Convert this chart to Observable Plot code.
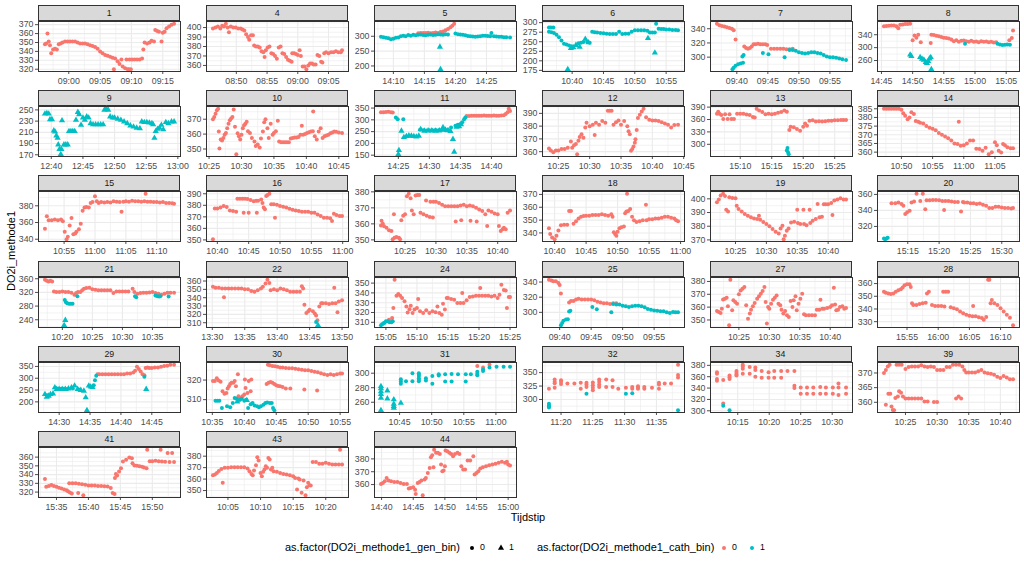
<!DOCTYPE html>
<html><head><meta charset="utf-8">
<script src="https://cdn.jsdelivr.net/npm/d3@7"></script>
<script src="https://cdn.jsdelivr.net/npm/@observablehq/plot@0.6"></script>
<style>
html,body{margin:0;padding:0;background:#fff;}
#chart{position:relative;width:1024px;height:566px;font-family:"Liberation Sans",Arial,sans-serif;overflow:hidden;background:#fff;}
.strip{position:absolute;box-sizing:border-box;height:16px;background:#D9D9D9;border:1px solid #333;font-size:8.8px;color:#1A1A1A;text-align:center;line-height:14px;}
.panel{position:absolute;}
.title{position:absolute;font-size:11px;color:#000;white-space:nowrap;}
</style></head><body><div id="chart"></div>
<script>
const RED = "#F8766D", TEAL = "#00BFC4";
// time as HHMM.f (fractional minutes), value pairs: [t, v, t, v, ...]
const P1 = {id:"1", yTicks:[320,330,340,350,360,370],
 red:[856.2,348, 856.4,349, 856.6,360, 856.8,351, 857,347, 857.2,338, 857.5,342, 857.8,343, 858.1,342, 858.4,348, 858.7,349, 859,350, 859.4,351, 859.8,351, 900.2,351, 900.6,351, 901,351, 901.4,350, 901.8,349, 902.2,349, 902.6,349, 903,348, 903.4,347, 903.8,346, 904.2,345, 904.6,343, 905,340, 905.4,338, 905.8,336, 906.2,335, 906.6,334, 907,333, 907.2,320, 907.4,332, 907.8,329, 908.1,326, 908.4,331, 908.6,323, 909,321, 909.4,320, 909.6,320, 909.9,320, 909.2,331, 909.7,331, 910.1,331, 910.5,331, 910.9,331, 911.3,331, 911.7,332, 911.9,342, 912.1,350, 912.5,349, 912.9,350, 913.2,352, 913.6,351, 913.8,364, 914.1,363, 914.4,362, 914.8,351, 915,361, 915.3,362, 915.6,366, 916,368, 916.4,370, 916.8,371],
 tealC:[], tealT:[]};
const P4 = {id:"4", yTicks:[360,370,380,390,400],
 red:[846.2,399, 846.6,400, 847,401, 847.4,399, 847.7,402, 848,401, 848.3,404, 848.6,400, 848.8,395, 849.1,401, 849.5,400, 849.9,400, 850.3,399, 850.7,399, 851,398, 851.3,397, 851.6,393, 851.9,390, 852.1,387, 852.4,392, 852.7,392, 852.9,381, 853.2,380, 853.5,380, 853.8,379, 854.1,375, 854.4,374, 854.6,369, 854.8,376, 855.1,379, 855.4,380, 855.7,373, 856,372, 856.3,370, 856.6,367, 856.9,379, 857.2,380, 857.5,373, 857.8,372, 858.1,369, 858.4,366, 858.7,365, 859,364, 859.1,373, 859.4,373, 859.7,372, 900,371, 900.3,376, 900.5,370, 900.8,359, 901.1,359, 901.4,356, 901.7,360, 902,362, 902.3,362, 902.6,361, 902.9,361, 903.2,371, 903.5,370, 903.8,364, 904,363, 904.3,373, 904.6,374, 905,373, 905.4,374, 905.8,374, 906.2,375, 906.6,374, 907,374, 907.2,376],
 tealC:[], tealT:[]};
const P5 = {id:"5", yTicks:[200,250,300],
 red:[1414,310, 1414.4,311, 1414.8,311, 1415.2,311, 1415.6,312, 1416,310, 1416.4,311, 1416.8,313, 1417.2,311, 1417.6,314, 1418,316, 1418.4,320, 1418.8,324, 1419.2,330, 1419.5,335, 1419.8,342],
 tealC:[1408,298, 1408.4,297, 1408.8,295, 1409.2,293, 1409.6,290, 1410,292, 1410.4,295, 1410.8,296, 1411.2,300, 1411.6,302, 1412,300, 1412.4,304, 1412.8,302, 1413.2,305, 1413.6,303, 1414,305, 1414.4,306, 1414.8,304, 1415.2,303, 1415.6,305, 1416,306, 1416.4,304, 1416.8,305, 1417.2,307, 1417.6,306, 1418,305, 1418.4,307, 1418.8,306, 1420,309, 1420.4,307, 1420.8,306, 1421.2,305, 1421.6,303, 1422,301, 1422.4,300, 1422.8,299, 1423.2,298, 1423.6,299, 1424,300, 1424.4,302, 1424.8,302, 1425.2,301, 1425.6,300, 1425.8,311, 1426.2,300, 1426.6,299, 1427,298, 1427.4,298, 1427.8,297, 1428.2,297, 1428.8,296],
 tealT:[1417.5,264, 1417.6,189]};
const P6 = {id:"6", yTicks:[175,200,225,250,275,300],
 red:[],
 tealC:[1036.3,287, 1036.6,287, 1037,287, 1036.3,276, 1036.7,275, 1037.1,273, 1037.5,268, 1037.9,262, 1038.3,253, 1038.7,245, 1039.1,243, 1039.5,240, 1039.9,238, 1041,246, 1041.4,247, 1041.8,249, 1042.4,250, 1042.8,247, 1043.2,276, 1043.6,275, 1044,274, 1044.5,273, 1045,272, 1045.5,271, 1046,270, 1046.5,270, 1047,270, 1047.5,276, 1048,270, 1048.5,271, 1049,271, 1049.5,276, 1050,280, 1050.5,280, 1051,280, 1051.5,280, 1052,279, 1052.4,274, 1052.8,274, 1053.2,274, 1053.4,297, 1053.8,284, 1054.2,283, 1054.6,283, 1055,282, 1055.5,282, 1056,281, 1056.5,281, 1056.9,280],
 tealT:[1039.3,178, 1039.8,233, 1040.2,235, 1040.6,241, 1041.2,236, 1042.1,257, 1042.6,248, 1052.1,259, 1053.2,221]};
const P7 = {id:"7", yTicks:[300,320,340],
 red:[936.8,347, 937.2,345, 937.6,344, 938,343, 938.4,342, 938.8,341, 939.2,340, 939.5,338, 939.8,325, 941.2,315, 941.5,313, 941.8,312, 942.1,313, 942.4,315, 942.7,318, 943,318, 943.4,319, 943.8,318, 944.2,318, 944.6,318, 944.9,317, 945.5,312, 946,312, 946.5,312, 947,312, 947.5,312, 948,311, 948.5,311, 949,312],
 tealC:[939.3,283, 939.5,285, 939.8,288, 940.2,290, 940.6,291, 941,292, 940.9,301, 941.1,303, 944.2,306, 945.1,304, 947.7,300, 948.5,310, 949,310, 949.5,309, 950,307, 950.5,306, 951,305, 951.5,306, 952,307, 952.5,307, 953,306, 953.5,305, 954,303, 954.5,301, 955,300, 955.5,300, 956,299, 956.5,298, 957,297, 957.6,296],
 tealT:[]};
const P8 = {id:"8", yTicks:[260,300,340],
 red:[1445.4,366, 1445.8,367, 1446.2,368, 1446.6,369, 1447,369, 1447.4,366, 1447.7,360, 1448,371, 1448.4,372, 1448.8,373, 1449.2,373, 1449.6,374, 1450,323, 1450.3,338, 1450.6,331, 1450.9,340, 1451.3,317, 1452.9,314, 1453,340, 1453.4,339, 1453.8,337, 1454.2,335, 1454.6,333, 1455,331, 1455.4,330, 1455.8,328, 1456.2,325, 1456.6,320, 1457,323, 1457.4,318, 1457.8,321, 1458.2,322, 1458.6,320, 1459,318, 1459.4,321, 1459.8,318, 1500.2,319, 1500.6,317, 1501,320, 1501.4,318, 1501.8,319, 1502.2,317, 1502.6,318, 1503,316, 1503.4,317, 1505.5,323, 1505.9,330, 1506.1,353],
 tealC:[1458.4,312, 1503.6,312, 1504,310, 1504.4,308, 1504.8,309, 1505.2,310, 1505.6,309],
 tealT:[1449.6,278, 1449.8,273, 1451.2,270, 1451.5,265, 1451.8,262, 1452.1,255, 1452.3,252, 1452.5,258, 1452.7,266, 1452.9,270, 1453,233]};
const P9 = {id:"9", yTicks:[170,190,210,230,250],
 red:[], tealC:[],
 tealT:[1239,243, 1239.3,244, 1239.6,243, 1239.8,233, 1240.1,233, 1240.4,213, 1240.6,211, 1240.8,204, 1241,200, 1241.1,188, 1241.3,180, 1241.5,171, 1241.6,180, 1241.7,231, 1242,188, 1242.3,188, 1242.6,188, 1242.8,212, 1243.1,212, 1243.4,212, 1243.7,212, 1243.9,232, 1244.2,246, 1244.4,242, 1244.7,223, 1245,236, 1245.3,232, 1245.6,238, 1245.9,236, 1246.2,226, 1246.6,224, 1247,224, 1247.4,224, 1247.8,224, 1248.2,224, 1248.4,250, 1248.7,252, 1249,250, 1249.3,238, 1249.7,236, 1250,236, 1250.5,234, 1251,232, 1251.5,229, 1252,226, 1252.5,222, 1253,220, 1253.5,218, 1254,217, 1254.3,229, 1254.7,228, 1255.1,228, 1255.5,227, 1255.9,226, 1256.1,224, 1256.3,200, 1256.5,212, 1256.8,216, 1257.1,218, 1257.4,223, 1257.7,215, 1258.1,228, 1258.5,226, 1259,229, 1259.4,229]};
const P10 = {id:"10", yTicks:[350,360,370],
 red:[1025.6,370, 1025.8,371.5, 1026,373.7, 1026.2,376, 1026.4,377, 1026.5,361.7, 1026.6,350.4, 1026.8,356.3, 1027,355.7, 1027.2,357.4, 1027.4,359.6, 1027.6,360.7, 1027.8,364, 1028,367, 1028.2,369.3, 1028.4,370.4, 1028.6,371.5, 1028.8,376.5, 1029,365, 1029.2,346.5, 1029.4,360.6, 1029.6,358.5, 1029.8,356.3, 1030,359.6, 1030.2,364, 1030.4,366, 1030.6,367, 1030.8,368.3, 1031,362, 1031.3,360.7, 1031.6,357.4, 1032,355, 1032.2,352, 1032.5,353, 1032.8,351, 1033,357, 1033.3,361.7, 1033.5,368, 1033.7,370, 1034,364, 1034.2,357.4, 1034.5,367, 1034.8,359.6, 1035,360.7, 1035.3,362, 1035.6,369, 1035.8,355, 1036.1,354.5, 1036.4,354.5, 1036.7,354.5, 1037,354.5, 1037.3,354.5, 1037.6,357, 1037.9,357.4, 1038.2,357.8, 1038.5,357.8, 1038.8,358, 1039.1,359.6, 1039.3,365.6, 1039.5,359.6, 1039.8,360, 1040.1,360.7, 1040.4,361.2, 1040.7,361.7, 1041,362, 1041.05,375.2, 1041.3,358.5, 1041.6,356.3, 1041.9,361.7, 1042.2,364, 1042.5,357.4, 1042.8,358.5, 1043.1,359, 1043.4,359.6, 1043.7,360.5, 1044,361, 1044.3,361.7, 1044.6,361.5, 1045,361, 1045.5,360.7],
 tealC:[], tealT:[]};
const P11 = {id:"11", yTicks:[150,200,250,300,350],
 red:[1422.2,332, 1422.6,332, 1423,333, 1423.4,334, 1423.8,332, 1424.1,331, 1436,316, 1436.4,316, 1436.8,317, 1437.2,317, 1437.6,317, 1438,317, 1438.4,317, 1438.8,318, 1439.2,317, 1439.6,317, 1440,317, 1440.4,318, 1440.8,317, 1441.2,317, 1441.6,318, 1442,320, 1442.3,325, 1442.6,332, 1442.8,347, 1443,338],
 tealC:[1424.6,310, 1424.9,303, 1425.8,303, 1428.5,258, 1429,256, 1429.5,255, 1430,256, 1430.5,256, 1431,257, 1431.5,256, 1432,257, 1432.5,256, 1433,257, 1433.5,268, 1434.2,275, 1434.6,279, 1435,282, 1435.3,290, 1435.6,303, 1435.8,310],
 tealT:[1425.1,171, 1425,154, 1425.5,253, 1425.9,226, 1426.3,230, 1426.7,233, 1427.1,232, 1427.5,230, 1427.9,228, 1428.3,232, 1428.6,260, 1429.2,253, 1429.8,254, 1430.4,254, 1431,253, 1431.6,254, 1432.2,268, 1432.6,258, 1433,255, 1433.4,252, 1433.8,218, 1434,164, 1434.4,270, 1434.8,272, 1435.1,280]};
const P12 = {id:"12", yTicks:[360,370,380,390],
 red:[1023.5,362.5, 1023.8,361, 1024.2,359.5, 1024.6,361, 1025,361, 1025.5,362, 1026,362, 1026.5,363, 1027,368, 1027.2,363, 1027.5,365, 1027.8,366, 1028,358, 1028.2,368.5, 1028.4,371.5, 1028.7,373.6, 1029,371, 1029.3,379, 1029.5,382.6, 1030,380, 1030.5,381, 1030.8,373, 1031,382.6, 1031.5,381, 1032,384, 1032.5,382.6, 1032.9,392, 1033.2,392, 1033.5,392, 1033.8,381, 1034.2,383, 1034.6,384.4, 1035,381, 1035.5,384, 1036,380, 1036.2,376, 1036.4,373.6, 1036.6,360.8, 1036.8,362, 1037,364, 1037.2,367, 1037.3,369.7, 1037.5,377, 1037.7,386.4, 1038,389, 1038.3,391.5, 1038.6,393.6, 1039,387, 1039.5,385, 1040,384.5, 1040.5,384.4, 1041,384, 1041.5,383, 1042,382, 1042.5,381, 1043,379, 1043.5,380.8, 1044.1,381],
 tealC:[], tealT:[]};
const P13 = {id:"13", yTicks:[300,330,360,390],
 red:[1506.3,374, 1506.5,379, 1506.7,374, 1507,371, 1507.3,361, 1507.6,373, 1508,361, 1508.3,373, 1508.6,361, 1509,361, 1509.5,374, 1510,374, 1510.5,374, 1511,372, 1511.5,371, 1512,366, 1512.3,365, 1512.6,386, 1513,382, 1513.5,378, 1514,373, 1514.5,374, 1515,373, 1515.5,374, 1516,376.6, 1516.5,378, 1517,382, 1517.4,379, 1517.8,334.7, 1518,342.6, 1518.5,341, 1519,337, 1519.5,333, 1520,342.6, 1520.3,350.5, 1520.6,345, 1521,357, 1521.5,358.4, 1522,355, 1522.5,356, 1523,355, 1523.5,356, 1524,357, 1524.5,357, 1525,358, 1525.5,358, 1526,359, 1526.4,359, 1526.8,359],
 tealC:[1517.4,285, 1517.5,291, 1517.6,280, 1517.7,276], tealT:[]};
const P14 = {id:"14", yTicks:[360,365,370,375,380,385],
 red:[1047.2,385, 1047.6,385, 1048,385, 1048.4,385, 1048.8,385, 1049.2,385, 1049.6,385, 1050,384.4, 1050.3,382.4, 1050.6,381, 1051,379, 1051.3,380, 1051.6,383, 1052,382, 1052.3,378, 1052.7,377.5, 1053,377, 1053.5,376.5, 1054,375, 1054.5,374, 1055,373.5, 1055.5,372.6, 1056,371, 1056.5,370, 1057,369, 1057.5,368, 1058,366.7, 1058.5,365, 1059,364.7, 1059.2,377.5, 1059.5,363.7, 1100,364, 1100.5,365, 1101,366.7, 1101.5,366.7, 1102,362, 1102.5,361.8, 1103,360.8, 1103.5,362.6, 1104,358.8, 1104.5,360, 1105,365.7, 1105.3,364, 1105.6,360.8, 1106,359.8, 1106.3,364.7, 1106.6,364, 1107,362.8, 1107.5,362.2, 1107.9,362.2],
 tealC:[], tealT:[]};
const P15 = {id:"15", yTicks:[340,360,380],
 red:[1051.9,352.4, 1052.2,367.6, 1052.5,362.7, 1053,362.7, 1053.5,363.5, 1054,362.7, 1054.5,363.5, 1054.8,361.4, 1055.1,349, 1055.4,340, 1055.6,343, 1055.9,356.5, 1056.2,365.5, 1056.5,346, 1056.8,347, 1057,349, 1057.4,352, 1057.7,358.6, 1058,374, 1058.3,378, 1058.6,378.5, 1059,378, 1059.3,383.3, 1059.6,384.5, 1100,391.5, 1100.3,385.4, 1100.6,383.3, 1101,384.5, 1101.5,384, 1102,384.5, 1102.5,384, 1103,385.4, 1103.5,385, 1104,384.5, 1104.3,373, 1104.6,385, 1105,385.4, 1105.5,385, 1106,386, 1106.5,385.4, 1107,385.4, 1107.5,385, 1108,385.4, 1108.2,394.4, 1108.5,385, 1109,385, 1109.5,384.5, 1110,384.5, 1110.5,384, 1111,384.5, 1111.5,383.5, 1112,383.3, 1112.5,383, 1112.8,382.5],
 tealC:[], tealT:[]};
const P16 = {id:"16", yTicks:[350,360,370,380,390],
 red:[1039.3,350.6, 1039.6,377.3, 1040,377.3, 1040.5,378, 1041,379.4, 1041.5,378.5, 1042,375.6, 1042.5,375, 1043,374.5, 1043.2,385.7, 1043.6,385.7, 1044,385.7, 1044.4,385.7, 1044.2,373.6, 1044.8,385.5, 1045,373.6, 1045.3,384.5, 1045.8,383.5, 1046.2,384, 1046.5,384, 1047,385, 1046.3,373.6, 1047.2,382, 1047.4,378, 1047.6,376.5, 1047.8,388, 1048,389, 1048.3,390, 1048.6,381, 1049,381, 1049.2,369.3, 1049.5,380.5, 1050,379.4, 1050.5,378.8, 1051,378, 1051.5,377, 1052,376.1, 1052.5,375.6, 1053,375, 1053.5,374.5, 1054,374.5, 1054.5,374.5, 1055,373.6, 1055.5,373.6, 1056,372, 1056.5,370.7, 1057,369.3, 1057.5,369.3, 1058,368.7, 1058.3,366.4, 1058.6,372.7, 1059,371.6, 1059.5,370.7, 1059.9,370.7],
 tealC:[], tealT:[]};
const P17 = {id:"17", yTicks:[350,360,370,380],
 red:[1021.1,359, 1021.2,362, 1021.4,360, 1021.6,358.5, 1022,357.6, 1022.4,356, 1022.8,355.6, 1023,350.4, 1023.2,366, 1023.3,351.4, 1023.6,351.8, 1024,351.4, 1024.2,350.4, 1024.4,362.2, 1024.7,365, 1025,366, 1025.3,377.3, 1025.6,378.8, 1025.9,376, 1026.1,368.4, 1026.4,366, 1026.7,377.7, 1027,378, 1027.3,378, 1027.5,367, 1028,366, 1028.4,374.6, 1028.5,365, 1029,364.3, 1029.5,364, 1029.1,373.8, 1029.6,373.8, 1030,373.8, 1030.5,373, 1031,372, 1031.5,371, 1032,371, 1032.5,371, 1033,371, 1033.2,361.4, 1033.5,371, 1034,371.4, 1034.1,362.2, 1034.5,372, 1035,371, 1035.5,371.4, 1035.6,362, 1036,371, 1036.5,370, 1036.6,361.4, 1037,369, 1037.5,368, 1038,366, 1038.3,358.7, 1038.5,368.4, 1039,367.6, 1039.5,366.5, 1040,366, 1040.2,358.7, 1040.5,355.6, 1040.8,356.6, 1041,357.6, 1041.3,356.6, 1041.6,367, 1042,368.4],
 tealC:[], tealT:[]};
const P18 = {id:"18", yTicks:[340,350,360,370],
 red:[1039.1,343.7, 1039.3,339.2, 1039.6,336.5, 1040,335.1, 1040.3,337.8, 1040.6,341.9, 1041,345.9, 1041.5,346.4, 1042,346.4, 1042.3,357.1, 1042.6,357.1, 1043,347.2, 1043.4,349.1, 1043.8,351.2, 1044.2,352.6, 1044.6,353.1, 1045,353.4, 1045.5,353.4, 1046,353.9, 1046.5,353.9, 1047,353.9, 1047.5,354.5, 1048,353.9, 1048.5,353.4, 1049,354.5, 1049.2,352.6, 1049.4,340.5, 1049.6,339.2, 1049.8,337.8, 1050,341, 1050.3,343.7, 1050.6,344.5, 1051,345.1, 1051.2,355.3, 1051.4,356.6, 1051.5,370.5, 1051.7,357.1, 1052,358.7, 1052.3,352.6, 1052.6,349.9, 1053,348.6, 1053.5,349.1, 1054,349.9, 1054.5,362, 1054.6,349.9, 1055,350.7, 1055.5,350.7, 1056,351.2, 1056.5,351.2, 1057,351.8, 1057.5,352.6, 1058,352.6, 1058.5,351.8, 1059,351.2, 1059.3,349.9, 1059.6,349.1],
 tealC:[], tealT:[]};
const P19 = {id:"19", yTicks:[370,380,390,400],
 red:[1022,397.5, 1022.3,399.5, 1022.6,402.5, 1023,403.7, 1023.3,402, 1023.5,392, 1023.8,390.7, 1024,401.2, 1024.5,400.7, 1025,400.5, 1025.2,395, 1025.5,392.6, 1026,390.7, 1026.5,389, 1027,387.7, 1027.5,386.5, 1028,385.7, 1028.5,385.2, 1028.8,387.7, 1029,384.8, 1029.5,383, 1030,381.6, 1030.5,380, 1031,378, 1031.5,376, 1032,374.7, 1032.3,378.4, 1032.6,380.3, 1032.8,370.5, 1033,373, 1033.3,376.7, 1033.6,378.4, 1034,382.8, 1034.5,383.3, 1035,392, 1035.1,382.3, 1035.5,381.6, 1036,392, 1036.1,381.6, 1036.5,380.8, 1037,392, 1037.1,382.3, 1037.5,384, 1038,385.3, 1038.3,396.3, 1038.6,386.5, 1039,387, 1039.3,396, 1039.6,396, 1040,396, 1040.5,397, 1040.7,388.2, 1041,398.8, 1041.5,399.5, 1042,400.5, 1042.5,399.5, 1042.9,399.5],
 tealC:[], tealT:[]};
const P20 = {id:"20", yTicks:[320,340,360],
 red:[1512.4,349, 1513,349, 1513.5,350, 1514,348, 1514.3,345.7, 1514.6,335.5, 1514.9,337.6, 1515.3,339.6, 1515.6,350, 1516,351, 1516.4,360.8, 1517,351.8, 1517.4,360.8, 1517.8,341.6, 1518,352.7, 1518.5,352.7, 1519,353, 1519.5,353, 1520,352.7, 1520.5,351.8, 1520.8,340.4, 1521,351.8, 1521.5,351.8, 1522,351, 1522.5,350.6, 1523,350.6, 1523.5,338.8, 1523.8,350.6, 1524,350, 1524.5,350, 1525,349, 1525.5,349, 1526,348, 1526.5,348.8, 1527,347, 1527.5,345.7, 1528,342.9, 1528.5,342.9, 1529,344.5, 1529.5,344.5, 1530,343.7, 1530.5,342.9, 1531,342.9, 1531.5,342.5, 1531.8,342.9],
 tealC:[1511.2,305, 1511.4,304, 1511.6,305, 1511.8,306], tealT:[]};
const P21 = {id:"21", yTicks:[240,280,320,360],
 red:[1017.1,357, 1017.4,354, 1017.7,352, 1018,354, 1018.3,352, 1018.6,323, 1019,321, 1019.5,321, 1020,323, 1020.5,321, 1021,321, 1021.5,319, 1022,313, 1022.3,318, 1022.6,321, 1023,321, 1023.3,326, 1023.6,331, 1024,333, 1024.5,334, 1025,329, 1025.5,328, 1026,326, 1026.5,326, 1027,326, 1027.5,326, 1028,326, 1028.5,318, 1029,323, 1029.5,323, 1030,323, 1030.5,323, 1031,323, 1031.7,331, 1032,321, 1032.5,316, 1033,318, 1033.5,319, 1034,319, 1034.5,320, 1035,321, 1035.5,318, 1036,316, 1036.5,313, 1037,316, 1037.5,319, 1038,319, 1038.6,319],
 tealC:[1020.4,298, 1020.6,291, 1020.8,288, 1021.1,287, 1021.4,287, 1021.7,287, 1022.5,309, 1032.1,309, 1032.3,306, 1035.5,311, 1035.8,309, 1036.1,308, 1036.3,309, 1037.7,308],
 tealT:[1020.5,239, 1020.3,224]};
const P22 = {id:"22", yTicks:[310,320,330,340,350,360],
 red:[1330.1,353, 1330.5,352, 1331,352, 1331.5,351, 1331.8,340.5, 1332,351, 1332.5,351, 1333,351, 1333.5,351, 1334,351, 1334.5,351, 1335,350, 1335.5,350, 1336,348, 1336.5,347, 1337,349, 1337.5,351, 1337.8,353, 1338.2,357, 1338.5,361.5, 1338.8,357.6, 1339,349, 1339.5,350, 1340,349, 1340.5,351, 1341,350, 1341.5,349, 1342,347, 1342.5,347, 1343,347, 1343.5,347, 1343.8,353.8, 1344,351, 1344.2,331.5, 1344.5,321.7, 1344.8,323.7, 1345,325.6, 1345.5,323.7, 1345.8,321, 1346,318.6, 1346.2,313, 1346.5,329.5, 1346.8,333.4, 1347,333.4, 1347.5,333.4, 1348,332.6, 1348.5,333.4, 1348.8,352, 1349,333.4, 1349.3,322.5, 1349.5,335.4, 1350,337],
 tealC:[1346,311], tealT:[1346.3,307]};
const P24 = {id:"24", yTicks:[310,320,330,340,350],
 red:[1505.5,312.7, 1506,314.4, 1506.2,324.6, 1506.4,353.4, 1506.7,337, 1507,339, 1507.3,337, 1507.6,334.7, 1508,331.4, 1508.3,326, 1508.5,320, 1508.8,323.4, 1509,327, 1509.3,319.5, 1509.6,323, 1510,324.6, 1510.2,333.7, 1510.5,321.3, 1511,319.5, 1511.5,322.4, 1512,319.5, 1512.5,321.3, 1513,320.3, 1513.3,326, 1513.6,319.5, 1514,317.8, 1514.2,329, 1514.5,323, 1514.8,334.7, 1515,334.7, 1515.5,333.7, 1516,333, 1516.5,329.7, 1517,329.7, 1517.3,339.8, 1517.5,329.7, 1518,332.5, 1518.5,335.8, 1519,336.4, 1519.5,337, 1520,337, 1520.2,345, 1520.5,337, 1521,337, 1521.5,337, 1522,336.4, 1522.5,337, 1523,334.7, 1523.3,338, 1523.6,348.3, 1524,343, 1524.3,342.4, 1524.5,324.6, 1524.8,335.8, 1525,335.8],
 tealC:[1504.2,307, 1504.4,308, 1504.6,309, 1504.8,309.5, 1505,311, 1505.3,311, 1505.6,310, 1505.9,310, 1506.1,311], tealT:[]};
const P25 = {id:"25", yTicks:[300,320,340],
 red:[938.3,343, 938.7,342, 939,341, 939.4,341, 939.8,338.7, 940,336, 940.2,325, 941.5,313, 941.8,315, 942.2,315, 942.6,317, 943,318, 943.5,317, 944,317, 944.5,317, 945,317, 945.5,316, 946,314, 946.5,313, 947,312, 947.5,312, 948,311, 948.5,312, 949,312],
 tealC:[940.2,283, 940.4,286, 940.6,289, 941,290.5, 941.3,291, 941.5,301, 941.7,302, 945.2,307, 945.9,304, 948.2,300, 948.5,311, 949,310.5, 949.5,310.5, 950,308.6, 950.5,308, 951,307, 951.5,308, 952,308.6, 952.5,308.6, 953,308, 953.5,306.7, 954,304.3, 954.5,303.5, 955,302.6, 955.5,302.2, 956,301.3, 956.5,301.3, 957,300, 957.5,299, 958,300.4, 958.4,300, 958.8,300],
 tealT:[]};
const P27 = {id:"27", yTicks:[350,360,370,380],
 red:[1021.4,357, 1021.7,356.2, 1022,355.5, 1022.2,358.8, 1022.4,366, 1022.7,366.6, 1023,367.3, 1023.2,360.6, 1023.4,345.9, 1023.6,381.3, 1023.9,357.5, 1024.1,365.3, 1024.4,364, 1024.7,362.7, 1025,370, 1025.3,373, 1025.6,374.3, 1025.9,375.6, 1026.2,361.4, 1026.5,351, 1026.8,355, 1027,358, 1027.3,360.6, 1027.6,363.2, 1028,366.6, 1028.3,368.4, 1028.6,370.4, 1028.9,372.5, 1029.2,375.6, 1029.4,364, 1029.6,347.2, 1029.8,360, 1030,358.8, 1030.3,362.7, 1030.6,365.8, 1030.9,367.3, 1031.2,369, 1031.5,362.7, 1031.8,361.4, 1032,358, 1032.3,355, 1032.6,357, 1032.9,353.6, 1033.2,352.4, 1033.5,364.8, 1033.8,360, 1034,365.3, 1034.3,368.4, 1034.5,357.5, 1034.8,362.7, 1035.1,366.6, 1035.4,370.4, 1035.7,354.4, 1036,353.6, 1036.5,353.6, 1037,353.6, 1037.5,353.6, 1037.8,358, 1038.2,358, 1038.4,365.8, 1038.7,358.8, 1039,358.8, 1039.5,359.4, 1040,360, 1040.3,361.4, 1040.6,375, 1040.8,362, 1041,357.5, 1041.3,358, 1041.6,360, 1042,360.6, 1042.3,358.8, 1042.6,359.4],
 tealC:[], tealT:[]};
const P28 = {id:"28", yTicks:[330,340,350,360],
 red:[1551.3,353.5, 1551.6,352.8, 1552,352.2, 1552.4,351.7, 1552.8,352.2, 1553.2,353.5, 1553.6,354.8, 1554,355.6, 1554.3,357, 1554.6,358.7, 1555,359.5, 1555.4,359.5, 1555.6,357.4, 1555.8,344.5, 1556,343.2, 1556.5,343.2, 1557,344, 1557.5,344.5, 1558,345, 1558.2,352.2, 1558.5,353.5, 1559,343.2, 1559.5,342.4, 1600,342.4, 1600.5,342.4, 1600.8,353.5, 1601.2,353.5, 1601.6,353.5, 1601,342, 1602,341.4, 1602.5,340.6, 1603,339.8, 1603.5,338, 1604,336.7, 1604.5,335.5, 1605,334.7, 1605.5,334.2, 1605.6,342.4, 1606,334.2, 1606.5,333.4, 1607,332.9, 1607.3,331.6, 1607.7,333.6, 1608,363, 1608.2,363, 1608.4,344.5, 1608.6,347, 1609,344.5, 1609.5,343.2, 1610,340.6, 1610.5,338, 1611,335.5, 1611.5,333, 1612,327.2],
 tealC:[], tealT:[]};
const P29 = {id:"29", yTicks:[200,250,300,350],
 red:[1436.2,317.4, 1436.5,317.4, 1437,317.4, 1437.5,317.4, 1438,317.4, 1438.5,317.4, 1439,317.4, 1439.5,317.4, 1440,317.4, 1440.5,317.4, 1441,320, 1441.5,320, 1442,324.5, 1442.3,331.6, 1442.6,348.6, 1442.9,338.7, 1443.2,328.8, 1443.5,317.4, 1443.8,313, 1444,343, 1444.3,345.8, 1444.6,343, 1445,343, 1445.5,345.8, 1446,345.8, 1446.5,348.6, 1447,351.4, 1447.5,352.8, 1448,357, 1448.6,357],
 tealC:[1428.1,228, 1429.8,255, 1430.3,255, 1430.8,255, 1431.3,254, 1432.2,257, 1433.2,252, 1435.6,270, 1435.8,292, 1436,310.3, 1443.8,306],
 tealT:[1427.7,232.4, 1428,221, 1428.3,225.4, 1428.6,232, 1429,235, 1429.3,261, 1429.6,253.7, 1430,253.7, 1430.5,253.7, 1431,253.7, 1431.5,256, 1432,260.8, 1432.5,268, 1433,253.7, 1433.5,249.4, 1434,246.5, 1434.3,218.3, 1434.5,164.6, 1434.8,268, 1435.1,264, 1435.4,262, 1444.1,253.7]};
const P30 = {id:"30", yTicks:[310,320],
 red:[1035.1,319.5, 1035.4,319.5, 1035.7,320.9, 1036,319.8, 1036.3,319.1, 1036.6,314.3, 1036.9,313, 1037.2,313.4, 1037.4,315.7, 1037.6,316.9, 1037.8,318, 1038,318.6, 1038.3,318.6, 1038.5,319.5, 1038.7,316.9, 1039,322.9, 1039.1,311.7, 1039.3,310, 1039.5,310.9, 1039.7,311.7, 1040,312.6, 1040.1,320.3, 1040.2,316, 1040.5,313.4, 1040.7,319.5, 1041,314.3, 1041.1,320.3, 1043.5,318, 1043.8,318.6, 1044.1,319, 1044.4,318.6, 1044.7,318, 1045,317.4, 1045.3,317, 1045.6,316.9, 1046,316.4, 1046.5,315.7, 1047.2,315.7, 1049.4,315.2, 1051.4,314.7, 1043.7,327.8, 1044,327.6, 1044.4,327.2, 1044.8,327, 1045.2,326.8, 1045.6,326.4, 1046,326.4, 1046.5,326.2, 1047,326, 1047.5,326, 1048,325.8, 1048.5,325.5, 1049,325.3, 1049.5,325, 1050,325, 1050.5,324.6, 1051,324.3, 1051.5,324, 1052,323.5, 1052.5,323, 1053,322.6, 1053.5,322.9, 1054,322.6, 1054.5,322.9, 1055,323.3, 1055.3,323.3],
 tealC:[1035.5,309.5, 1035.8,309.5, 1036.1,309.5, 1036.5,305.7, 1037.3,306.6, 1037.8,306.1, 1038.2,308.3, 1038.5,310.9, 1038.8,310.5, 1039.3,310, 1039.6,310.5, 1040,309.5, 1040.3,310, 1040.6,305.7, 1041,307.7, 1041.3,308.3, 1041.6,307, 1042,306.6, 1042.3,306.1, 1042.6,306.6, 1043,307.4, 1043.3,308.3, 1043.6,308.6, 1044,308.3, 1044.3,308.3, 1044.5,305.7, 1044.7,304.6],
 tealT:[1038.9,309, 1040.4,309.7]};
const P31 = {id:"31", yTicks:[260,280,300],
 red:[1057.1,310, 1058,308, 1059,311.6],
 tealC:[1045.2,291.6, 1045.2,288.5, 1045.2,285.6, 1046,289, 1047,300, 1047,289, 1048,300, 1048,298, 1048,296, 1048,293, 1048,291, 1048,289, 1049.1,293, 1049.1,290, 1050.1,296, 1050.1,285.6, 1051.1,298.6, 1051.1,296.7, 1052.1,298.6, 1052.1,288.4, 1053.1,299, 1053.1,288.4, 1054.1,298.6, 1055.3,298.6, 1055.3,288.4, 1056.1,298.6, 1057.1,299, 1057.1,297, 1057.1,302, 1058,303, 1058,305, 1059,308, 1100.1,309, 1101.2,309, 1102.2,308.8],
 tealT:[1042.1,282, 1042.1,279, 1042.1,275, 1042.1,271, 1042.1,266, 1042.1,249, 1043.1,276, 1043.1,265, 1044.1,263.7, 1044.1,257.7, 1044.1,254.4, 1044.1,252, 1045.2,259]};
const P32 = {id:"32", yTicks:[275,300,325,350],
 red:[1118.1,320, 1119,337, 1119,333, 1119,330, 1119,322, 1120,336, 1120,333, 1120,329, 1121,329.6, 1122.1,329.6, 1123.1,331, 1123.1,320, 1124,331, 1124,328, 1124,323, 1125,331.5, 1125,326.5, 1125,322, 1125,317, 1126,337, 1126,333, 1126,328, 1126,323, 1127.1,337, 1127.1,323, 1128.1,336, 1128.1,323, 1129,320, 1130.2,322, 1131.2,323, 1131.2,320, 1132.1,324.8, 1132.1,322, 1132.1,320, 1133.1,323, 1133.1,320, 1134.3,322, 1135.4,331, 1135.4,328, 1135.4,320, 1136.3,329.6, 1137.3,329.6, 1138.4,364.6, 1138.4,345.5, 1138.4,341],
 tealC:[1118.1,292, 1118.1,289, 1118.1,287, 1118.1,285, 1124,310.6, 1130.2,310.6, 1131.2,311.8, 1138.4,280], tealT:[]};
const P34 = {id:"34", yTicks:[300,320,340,360,380],
 red:[1011.7,368, 1011.7,365, 1011.7,356, 1011.7,353, 1012.7,354, 1012.7,313, 1013.7,362, 1013.7,359, 1013.7,356, 1014.8,370, 1014.8,367, 1014.8,364, 1014.8,362, 1015.8,381, 1015.8,378, 1015.8,374, 1015.8,365, 1016.9,377, 1016.9,365, 1017.8,376, 1017.8,372, 1017.8,360, 1018.8,370, 1018.8,358, 1019.9,368, 1019.9,358, 1020.8,370, 1020.8,358, 1021.9,370, 1021.9,358, 1022.9,370, 1024,370, 1024,344, 1024,340, 1025,341, 1025,330, 1026,341, 1026,330, 1027,341, 1027,330, 1028.1,342, 1028.1,330, 1029,341, 1029,330, 1030.1,341, 1030.1,330, 1031,348, 1031,341, 1031,328, 1032.2,341, 1032.2,330],
 tealC:[1012.7,309, 1013.7,301], tealT:[]};
const P39 = {id:"39", yTicks:[360,365,370],
 red:[1021.6,370, 1021.9,371, 1022.2,372.2, 1022.5,372.8, 1023.6,372.8, 1024,372.8, 1024.4,372.8, 1025,371.4, 1025.5,372, 1026,372.2, 1026.5,372.2, 1027,372.2, 1027.5,372.6, 1028,372.2, 1028.5,372, 1029,372.2, 1029.5,372, 1030,371, 1030.5,371, 1031,371, 1031.5,372, 1032,372, 1032.5,372.8, 1033,372.8, 1033.5,372.8, 1034,372.2, 1034.3,371, 1034.6,370.2, 1035,370.2, 1035.5,370.2, 1036,370.2, 1036.5,370.6, 1037,371, 1037.5,370.2, 1038,369.9, 1038.5,369.7, 1039,369.4, 1039.5,368.7, 1040,368.3, 1040.5,369, 1041,368.5, 1041.5,367.9, 1042,367.9,
      1021.9,359.2, 1022.3,362.9, 1022.6,362.9, 1022.8,358.6, 1023,357.4, 1023.2,357.3, 1023.4,361.5, 1023.8,362, 1024,363.8, 1024.3,363.3, 1024.6,362, 1025,361.3, 1025.5,361.3, 1026,361.3, 1026.5,361.3, 1027,361.3, 1027.5,361.3, 1028,360.3, 1028.5,360.3, 1029.5,360.1, 1030,360.1, 1033,361.3, 1033.4,362, 1033.8,361.3],
 tealC:[], tealT:[]};
const P41 = {id:"41", yTicks:[320,330,340,350,360],
 red:[1533.2,334.9, 1533.4,326, 1533.8,327, 1534.2,328, 1534.6,327, 1535,326, 1535.4,325, 1535.8,324, 1536.2,323, 1536.6,322, 1536.8,321, 1537.1,319.5, 1537.4,318.5, 1537,330, 1537.5,330, 1538,330, 1538.4,319, 1538.5,329.5, 1539,329, 1539.2,316.4, 1539.5,328.5, 1540,327.6, 1540.5,327.5, 1541,327.5, 1541.5,327, 1542,327, 1542.5,326.8, 1543,326.5, 1543.5,324.6, 1543.8,319, 1544.1,317.7, 1544.15,336, 1544.3,340.6, 1544.5,339, 1544.8,343.6, 1545.1,347.4, 1545.4,355, 1545.9,357, 1546.4,359.6, 1546.8,358.8, 1546.9,353, 1547.2,350.5, 1547.6,350, 1548,349.5, 1548.4,349, 1548.7,348.2, 1549.1,347.4, 1549.2,368.4, 1549.6,355.4, 1550,355.4, 1550.5,355.8, 1551,355.4, 1551.3,368.4, 1551.5,355, 1552,354.6, 1552.4,364.6, 1552.7,354.3, 1553.1,364.6, 1553.4,354.3],
 tealC:[], tealT:[]};
const P43 = {id:"43", yTicks:[350,360,370,380],
 red:[1002.7,363.4, 1003,364, 1003.3,365.4, 1003.6,367, 1004,368.9, 1004.2,356.7, 1004.5,369.8, 1005,369.8, 1005.5,370.4, 1006,370.4, 1006.5,370.4, 1007,370.4, 1007.5,370.4, 1008,369.2, 1008.3,366.9, 1008.6,364.5, 1008.8,363.4, 1009,367.5, 1009.3,372.1, 1009.5,379.1, 1009.7,376.2, 1010,365.4, 1010.2,362.5, 1010.4,366.3, 1010.6,368.3, 1010.8,371.3, 1011,369.8, 1011.2,378.5, 1011.4,377, 1011.6,368.3, 1011.8,369.8, 1012,366.9, 1012.5,366.3, 1013,365.4, 1013.5,364.5, 1014,364, 1014.5,363.4, 1015,362.5, 1015.3,361, 1015.6,350.8, 1015.8,360.5, 1016,359.6, 1016.3,348, 1016.6,358.8, 1016.9,345.9, 1017.1,352.9, 1017.3,356.7, 1017.5,354.6, 1017.7,354.3, 1018,375, 1018.5,375, 1019,373.3, 1019.5,373.3, 1020,374.2, 1020.5,373.3, 1021,372.7, 1021.5,372.7, 1022,372.7, 1022.2,385.6, 1022.5,372.7],
 tealC:[], tealT:[]};
const P44 = {id:"44", yTicks:[360,370,380],
 red:[1439.9,360.5, 1440.2,361.3, 1440.5,362.6, 1440.8,365.2, 1441.1,363.1, 1441.5,362.6, 1442,362, 1442.5,362, 1443,361.3, 1443.5,360.5, 1444,360.5, 1444.3,356.9, 1444.6,357.4, 1445,357.9, 1445.3,356, 1445.4,352.7, 1445.7,361.3, 1446,362, 1446.3,363.1, 1446.5,351.7, 1446.8,363.9, 1447,365.2, 1447.3,369.1, 1447.6,373, 1447.8,381.3, 1448,382.9, 1448.2,373.5, 1448.3,387.1, 1448.6,384.7, 1448.9,384.7, 1449.2,383.9, 1449.4,375.6, 1449.6,370.4, 1449.8,371, 1450,374.3, 1450.1,386.5, 1450.4,386, 1450.7,384.7, 1451,383.9, 1451.3,382, 1451.6,383.9, 1452,384.7, 1452.3,383.9, 1452.6,374.3, 1452.9,371.7, 1453.2,371.7, 1453.6,378.7, 1454,378.7, 1454.5,382, 1454.7,367.8, 1455,369.1, 1455.3,370.4, 1455.6,372.5, 1456,373.5, 1456.5,374.3, 1457,375, 1457.5,375.6, 1458,376.2, 1458.5,377, 1459,377.7, 1459.5,377, 1459.8,377.7, 1500,375.6, 1500.3,374.8],
 tealC:[], tealT:[]};

const panelRows = [
  [P1, P4, P5, P6, P7, P8],
  [P9, P10, P11, P12, P13, P14],
  [P15, P16, P17, P18, P19, P20],
  [P21, P22, P24, P25, P27, P28],
  [P29, P30, P31, P32, P34, P39],
  [P41, P43, P44]
];

// layout
const colLeft = [38.3, 206.1, 373.9, 541.7, 709.5, 877.3];
const rowTop = [5, 90.2, 175.4, 260.6, 345.8, 431];
const PW = 142, PH = 50, STRIP = 16, ML = 30, MB = 18;
const FONT = "Liberation Sans, Arial, sans-serif";

function toDate(t) {
  const h = Math.floor(t / 100), m = t - h * 100;
  return new Date(Date.UTC(2020, 0, 1, h, 0, 0) + Math.round(m * 60000));
}
function pairs(a) {
  const out = [];
  for (let i = 0; i < a.length; i += 2) out.push({t: toDate(a[i]), v: a[i + 1]});
  return out;
}
function minorOf(ticks, half, lo, hi, key) {
  const s = new Map();
  for (const t of ticks) for (const d of [-half, half]) {
    const m = +t + d;
    if (m >= +lo && m <= +hi) s.set(m, key(m));
  }
  return [...s.values()];
}

const chart = document.getElementById("chart");
const fmt = d3.utcFormat("%H:%M");

panelRows.forEach((row, r) => row.forEach((p, c) => {
  const red = pairs(p.red), tc = pairs(p.tealC), tt = pairs(p.tealT);
  const all = red.concat(tc, tt);
  const [t0, t1] = d3.extent(all, d => +d.t);
  const [v0, v1] = d3.extent(all, d => d.v);
  const dt = t1 - t0, dv = v1 - v0;
  const xdom = [new Date(t0 - 0.05 * dt), new Date(t1 + 0.05 * dt)];
  const ydom = [v0 - 0.05 * dv, v1 + 0.05 * dv];
  const xt = d3.utcMinute.every(5).range(xdom[0], new Date(+xdom[1] + 1));
  const yt = p.yTicks.filter(y => y >= ydom[0] && y <= ydom[1]);
  const ystep = p.yTicks[1] - p.yTicks[0];
  const xm = minorOf(xt, 150000, xdom[0], xdom[1], m => new Date(m));
  const ym = minorOf(p.yTicks, ystep / 2, ydom[0], ydom[1], m => m);

  const strip = document.createElement("div");
  strip.className = "strip";
  strip.style.left = colLeft[c] + "px";
  strip.style.top = rowTop[r] + "px";
  strip.style.width = PW + "px";
  strip.textContent = p.id;
  chart.appendChild(strip);

  const svg = Plot.plot({
    width: ML + PW + 1, height: 1 + PH + MB,
    marginLeft: ML, marginRight: 1, marginTop: 1, marginBottom: MB,
    style: {fontFamily: FONT, fontSize: "8.8px", color: "#4D4D4D", background: "transparent", overflow: "visible"},
    x: {type: "utc", domain: xdom, ticks: xt, tickFormat: fmt, tickSize: 3, tickPadding: 3, label: null},
    y: {domain: ydom, ticks: yt, tickSize: 3, tickPadding: 2, label: null},
    marks: [
      Plot.ruleX(xm, {stroke: "#EBEBEB", strokeWidth: 0.6}),
      Plot.ruleY(ym, {stroke: "#EBEBEB", strokeWidth: 0.6}),
      Plot.ruleX(xt, {stroke: "#EBEBEB", strokeWidth: 1.1}),
      Plot.ruleY(yt, {stroke: "#EBEBEB", strokeWidth: 1.1}),
      Plot.dot(red, {x: "t", y: "v", fill: RED, r: 2, symbol: "circle"}),
      Plot.dot(tc, {x: "t", y: "v", fill: TEAL, r: 2, symbol: "circle"}),
      Plot.dot(tt, {x: "t", y: "v", fill: TEAL, r: 2.3, symbol: "triangle"}),
      Plot.frame({stroke: "#333333", strokeWidth: 1})
    ]
  });
  const wrap = document.createElement("div");
  wrap.className = "panel";
  wrap.style.left = (colLeft[c] - ML) + "px";
  wrap.style.top = (rowTop[r] + STRIP - 1) + "px";
  wrap.style.width = (ML + PW + 1) + "px";
  wrap.appendChild(svg);
  chart.appendChild(wrap);
}));

// axis titles
const xTitle = document.createElement("div");
xTitle.className = "title";
xTitle.textContent = "Tijdstip";
xTitle.style.left = "528px"; xTitle.style.top = "511px"; xTitle.style.transform = "translateX(-50%)";
chart.appendChild(xTitle);
const yTitle = document.createElement("div");
yTitle.className = "title";
yTitle.textContent = "DO2i_methode1";
yTitle.style.left = "11px"; yTitle.style.top = "251px";
yTitle.style.transform = "translate(-50%,-50%) rotate(-90deg)";
chart.appendChild(yTitle);

// legend
const genLabels = ["0", "1"], genShapes = ["circle", "triangle"];
const cathLabels = ["0", "1"], cathColors = [RED, TEAL];
const ns = "http://www.w3.org/2000/svg";
const leg = document.createElementNS(ns, "svg");
leg.setAttribute("width", 1024); leg.setAttribute("height", 30);
leg.style.position = "absolute"; leg.style.left = "0px"; leg.style.top = "534px";
leg.style.fontFamily = FONT;
function txt(x, y, s, size) {
  const t = document.createElementNS(ns, "text");
  t.setAttribute("x", x); t.setAttribute("y", y); t.setAttribute("font-size", size);
  t.setAttribute("fill", "#000"); t.setAttribute("dominant-baseline", "middle");
  t.textContent = s; leg.appendChild(t);
}
const sym = (x, y, shape, color) => {
  const g = document.createElementNS(ns, "path");
  g.setAttribute("d", d3.symbol(shape === "triangle" ? d3.symbolTriangle : d3.symbolCircle, shape === "triangle" ? 16 : 12.5)());
  g.setAttribute("transform", `translate(${x},${y})`);
  g.setAttribute("fill", color); leg.appendChild(g);
};
const LY = 14;
txt(285, LY, "as.factor(DO2i_methode1_gen_bin)", 11);
genLabels.forEach((l, i) => { sym(472 + i * 29, LY, genShapes[i], "#000"); txt(480 + i * 29, LY, l, 8.8); });
txt(537, LY, "as.factor(DO2i_methode1_cath_bin)", 11);
cathLabels.forEach((l, i) => { sym(724 + i * 28, LY, "circle", cathColors[i]); txt(732 + i * 28, LY, l, 8.8); });
chart.appendChild(leg);
</script>
</body></html>
